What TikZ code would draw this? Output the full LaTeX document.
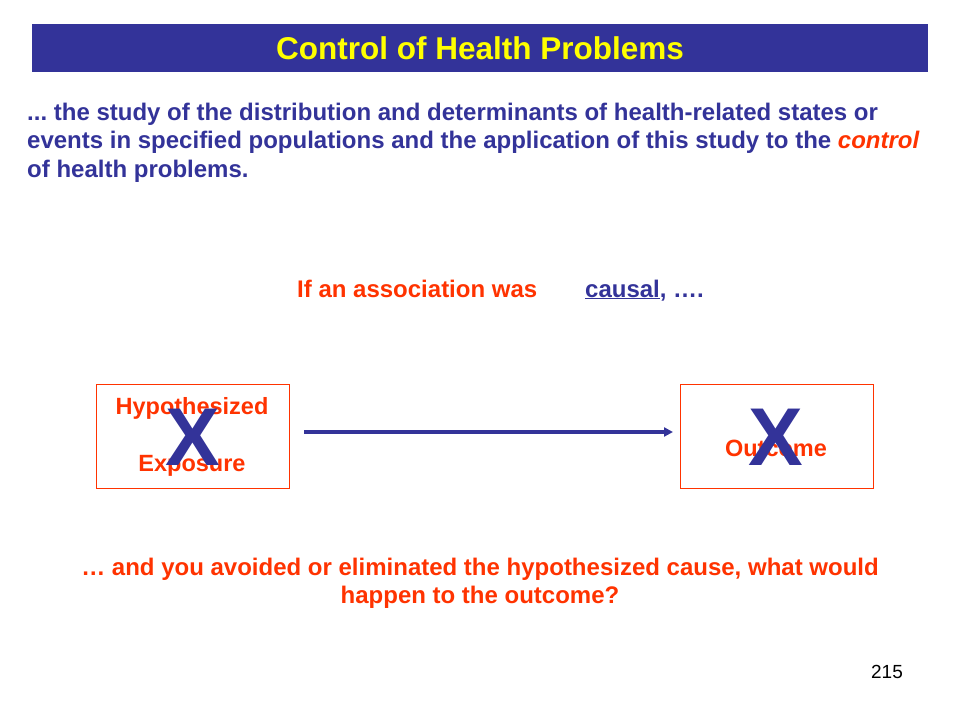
\documentclass[tikz,border=0pt]{standalone}
\usepackage{fontspec}
\setmainfont{Liberation Sans}
\usetikzlibrary{arrows.meta}
\frenchspacing
\definecolor{navy}{RGB}{51,51,153}
\definecolor{orred}{RGB}{255,51,0}
\definecolor{ttlyel}{RGB}{255,255,0}
\tikzset{
  bodytxt/.style={font=\bfseries\fontsize{24}{28.5}\selectfont, text=navy, inner sep=0pt, anchor=base west},
  redtxt/.style={font=\bfseries\fontsize{24}{28}\selectfont, text=orred, inner sep=0pt},
  boxlbl/.style={font=\bfseries\fontsize{23.5}{26}\selectfont, text=orred, inner sep=0pt, anchor=base},
  bigx/.style={font=\bfseries\fontsize{82}{84}\selectfont, text=navy, inner sep=0pt},
  varbox/.style={draw=orred, line width=0.9pt, minimum width=193pt, minimum height=104pt, inner sep=0pt},
}
\begin{document}
\begin{tikzpicture}[x=1pt,y=-1pt]
\useasboundingbox (0,0) rectangle (960,720);
% title bar
\node[fill=navy, minimum width=896pt, minimum height=48pt, inner sep=0pt, anchor=north west] (bar) at (32,24) {};
\node[font=\bfseries\fontsize{31.5}{33}\selectfont, text=ttlyel, anchor=base, inner sep=0pt] (title) at (480,59) {Control of Health Problems};
% definition
\node[bodytxt] (def1) at (27,120) {... the study of the distribution and determinants of health-related states or};
\node[bodytxt] (def2) at (27,148.5) {events in specified populations and the application of this study to the \textcolor{orred}{\itshape control}};
\node[bodytxt] (def3) at (27,177) {of health problems.};
% association line
\node[redtxt, anchor=base west] (ifassoc) at (297,297) {If an association was};
\node[redtxt, anchor=base west, text=navy] (causal) at (585,297) {\underline{causal}, ….};
% boxes
\node[varbox] (expo) at (192.5,436) {};
\node[varbox] (outc) at (776.5,436) {};
\node[boxlbl] (hyp) at (192,414) {Hypothesized};
\node[boxlbl] (exp) at (192,471) {Exposure};
\node[boxlbl] (out) at (776,456) {Outcome};
\node[bigx] (x1) at (193,437) {X};
\node[bigx] (x2) at (776,437) {X};
% arrow
\coordinate (as) at (304,432);
\coordinate (ae) at (673,432);
\draw[navy, line width=3.2pt, -{Triangle[length=9pt,width=9pt]}] (as) -- (ae);
% bottom question
\node[redtxt, anchor=base] (q1) at (480,575) {… and you avoided or eliminated the hypothesized cause, what would};
\node[redtxt, anchor=base] (q2) at (480,603) {happen to the outcome?};
% page number
\node[font=\fontsize{19}{21}\selectfont, anchor=base, inner sep=0pt] (pg) at (887,678) {215};
\end{tikzpicture}
\end{document}
